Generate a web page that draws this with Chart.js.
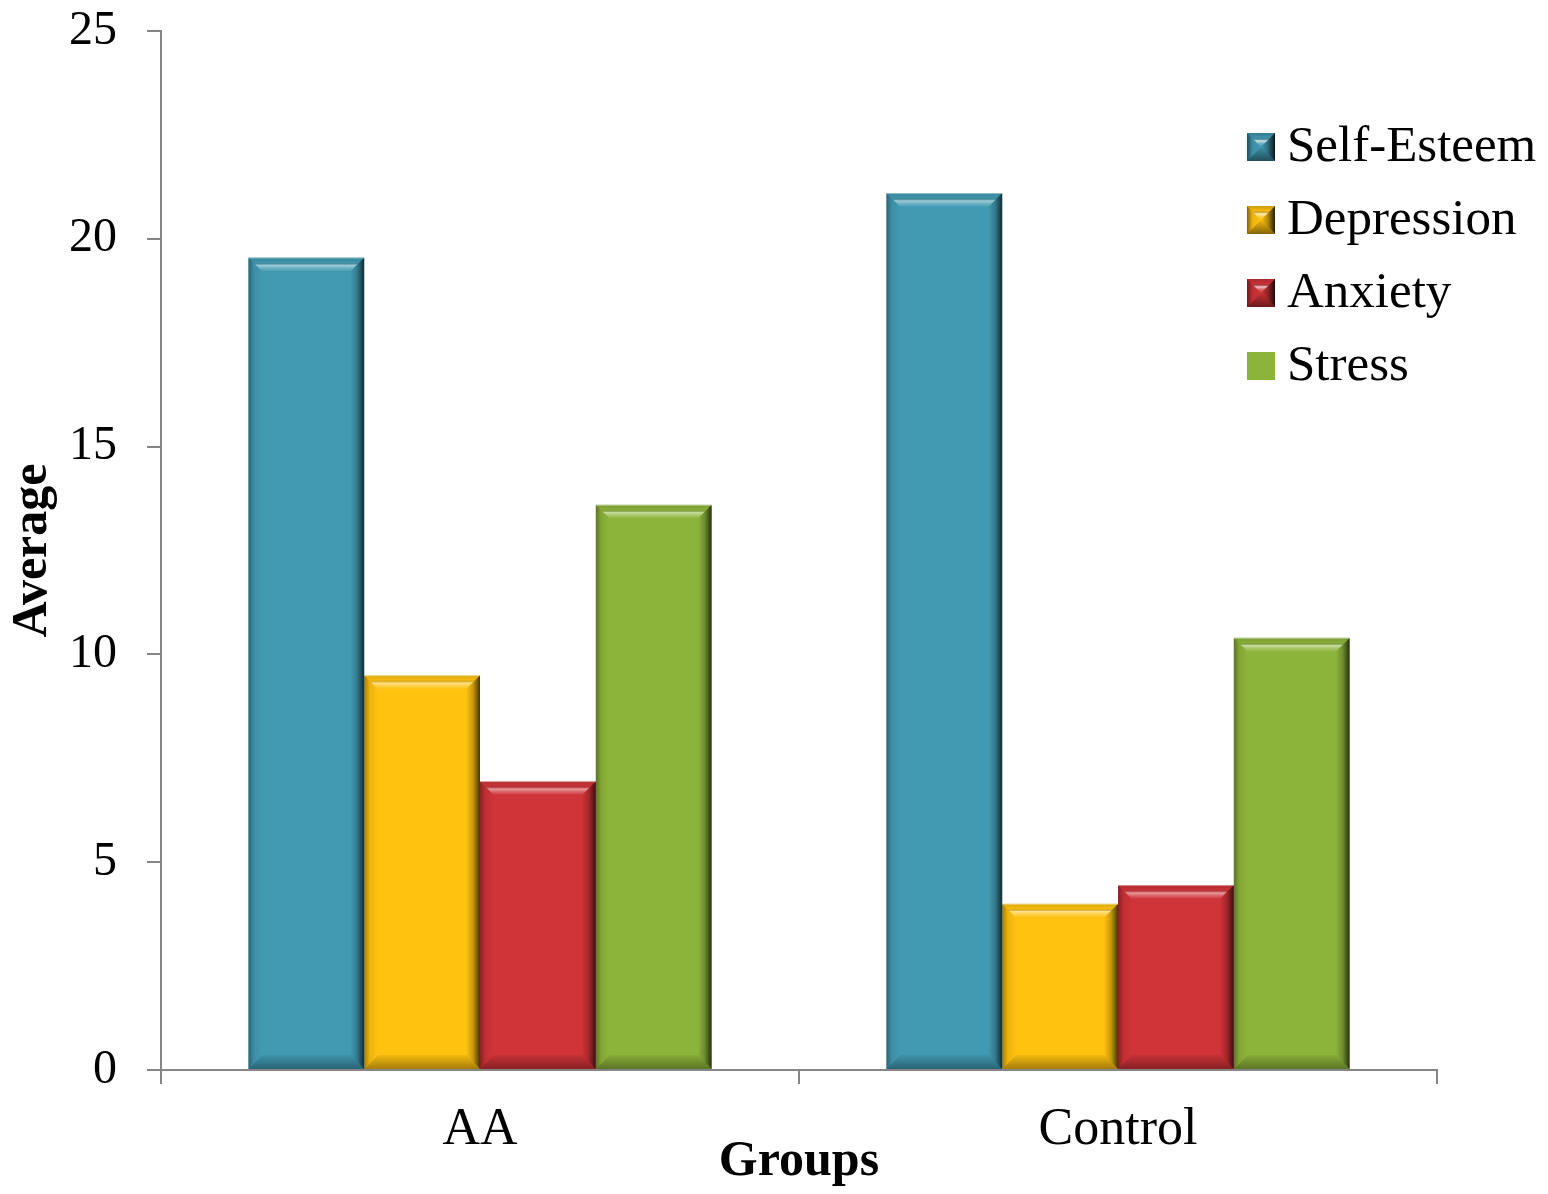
<!DOCTYPE html>
<html>
<head>
<meta charset="utf-8">
<script src="https://cdn.jsdelivr.net/npm/chart.js@4.4.1/dist/chart.umd.min.js"></script>
<style>
  html, body { margin: 0; padding: 0; background: #fff; }
  canvas { display: block; }
</style>
</head>
<body>
<canvas id="chart" width="1548" height="1194"></canvas>
<script>
// Group means per scale
const groups = ['AA', 'Control'];
const seriesNames = ['Self-Esteem', 'Depression', 'Anxiety', 'Stress'];
const selfEsteem = [19.55, 21.1];
const depression = [9.5, 4.0];
const anxiety = [6.95, 4.45];
const stress = [13.6, 10.4];
const yTickValues = [0, 5, 10, 15, 20, 25];

const seriesData = [selfEsteem, depression, anxiety, stress];
const seriesColors = ['#419AB2', '#FFC20F', '#D03338', '#8DB43A'];
const flatLegendMarker = [false, false, false, true];

const SERIF = "'Liberation Serif', 'Times New Roman', serif";
const AXIS_GRAY = '#868686';

function trapezoid(ctx, pts, fill) {
  ctx.beginPath();
  ctx.moveTo(pts[0][0], pts[0][1]);
  for (let i = 1; i < pts.length; i++) ctx.lineTo(pts[i][0], pts[i][1]);
  ctx.closePath();
  ctx.fillStyle = fill;
  ctx.fill();
}

// Raised-bevel shading over a filled rectangle
function bevel(ctx, l, t, r, b, s, strong) {
  const k = strong ? 1.4 : 1;
  // top edge
  let g = ctx.createLinearGradient(0, t, 0, t + s);
  g.addColorStop(0, 'rgba(0,0,0,' + 0.14 * k + ')');
  g.addColorStop(0.35, 'rgba(0,0,0,0.04)');
  g.addColorStop(0.55, 'rgba(255,255,255,' + Math.min(0.5 * k, 0.7) + ')');
  g.addColorStop(0.75, 'rgba(255,255,255,0.25)');
  g.addColorStop(1, 'rgba(255,255,255,0)');
  trapezoid(ctx, [[l, t], [r, t], [r - s, t + s], [l + s, t + s]], g);
  // right edge
  g = ctx.createLinearGradient(r - s, 0, r, 0);
  g.addColorStop(0, 'rgba(0,0,0,0)');
  g.addColorStop(0.5, 'rgba(0,0,0,' + 0.22 * k + ')');
  g.addColorStop(1, 'rgba(0,0,0,' + Math.min(0.72 * k, 0.85) + ')');
  trapezoid(ctx, [[r, t], [r, b], [r - s, b - s], [r - s, t + s]], g);
  // left edge
  g = ctx.createLinearGradient(l, 0, l + s, 0);
  g.addColorStop(0, 'rgba(0,0,0,' + 0.35 * k + ')');
  g.addColorStop(0.4, 'rgba(0,0,0,0.08)');
  g.addColorStop(1, 'rgba(0,0,0,0)');
  trapezoid(ctx, [[l, t], [l + s, t + s], [l + s, b - s], [l, b]], g);
  // bottom edge
  g = ctx.createLinearGradient(0, b - s, 0, b);
  g.addColorStop(0, 'rgba(0,0,0,0.05)');
  g.addColorStop(1, 'rgba(0,0,0,' + 0.35 * k + ')');
  trapezoid(ctx, [[l, b], [r, b], [r - s, b - s], [l + s, b - s]], g);
}

const bevelPlugin = {
  id: 'bevelBars',
  afterDatasetsDraw(chart) {
    const ctx = chart.ctx;
    ctx.save();
    chart.data.datasets.forEach((ds, i) => {
      const meta = chart.getDatasetMeta(i);
      meta.data.forEach(bar => {
        const p = bar.getProps(['x', 'y', 'base', 'width'], true);
        const l = p.x - p.width / 2, r = p.x + p.width / 2;
        const t = Math.min(p.y, p.base), b = Math.max(p.y, p.base);
        const s = Math.min(14, (b - t) / 2, (r - l) / 2);
        bevel(ctx, l, t, r, b, s, false);
        ctx.strokeStyle = 'rgba(255,255,255,0.45)';
        ctx.lineWidth = 1;
        ctx.beginPath();
        ctx.moveTo(l, t + 0.5);
        ctx.lineTo(r, t + 0.5);
        ctx.stroke();
      });
    });
    ctx.restore();
  }
};

const legendPlugin = {
  id: 'sideLegend',
  afterDraw(chart) {
    const ctx = chart.ctx;
    const area = chart.chartArea;
    const boxX = area.right - 190, size = 28, textX = boxX + 40;
    const firstY = area.top + 116, step = 73;
    ctx.save();
    ctx.font = '51px ' + SERIF;
    ctx.textBaseline = 'middle';
    ctx.textAlign = 'left';
    chart.data.datasets.forEach((ds, i) => {
      const cy = firstY + i * step;
      const t = cy - size / 2;
      ctx.fillStyle = ds.backgroundColor;
      ctx.fillRect(boxX, t, size, size);
      if (!flatLegendMarker[i]) bevel(ctx, boxX, t, boxX + size, t + size, size / 2, true);
      ctx.fillStyle = '#000';
      ctx.fillText(ds.label, textX, cy + 1);
    });
    ctx.restore();
  }
};

new Chart(document.getElementById('chart').getContext('2d'), {
  type: 'bar',
  data: {
    labels: groups,
    datasets: seriesNames.map((name, i) => ({
      label: name,
      data: seriesData[i],
      backgroundColor: seriesColors[i],
      borderWidth: 0
    }))
  },
  options: {
    responsive: false,
    animation: false,
    events: [],
    layout: { padding: { top: 31, right: 111, left: 0, bottom: 0 } },
    datasets: { bar: { categoryPercentage: 0.726, barPercentage: 1 } },
    plugins: { legend: { display: false }, tooltip: { enabled: false } },
    scales: {
      x: {
        offset: true,
        grid: { display: true, offset: true, drawOnChartArea: false, drawTicks: true, tickLength: 14, color: AXIS_GRAY, lineWidth: 2 },
        border: { display: true, color: AXIS_GRAY, width: 2 },
        ticks: { font: { family: SERIF, size: 52 }, color: '#000', padding: 15, maxRotation: 0 },
        title: { display: true, text: 'Groups', color: '#000',
                 font: { family: SERIF, size: 50, weight: 'bold' }, padding: { top: 0, bottom: 2 } },
        afterFit(scale) {
          scale.height = 124;
          scale.paddingLeft = 0; scale.paddingRight = 0;
        }
      },
      y: {
        min: 0, max: 25,
        afterBuildTicks(scale) { scale.ticks = yTickValues.map(v => ({ value: v })); },
        grid: { drawOnChartArea: false, drawTicks: true, tickLength: 14, color: AXIS_GRAY, lineWidth: 2 },
        border: { display: true, color: AXIS_GRAY, width: 2 },
        ticks: { font: { family: SERIF, size: 48 }, color: '#000', padding: 30 },
        title: { display: true, text: 'Average', color: '#000',
                 font: { family: SERIF, size: 50, weight: 'bold' }, padding: { top: 3, bottom: 0 } },
        afterFit(scale) {
          scale.width = 161;
          scale.paddingTop = 0; scale.paddingBottom = 0;
        }
      }
    }
  },
  plugins: [bevelPlugin, legendPlugin]
});
</script>
</body>
</html>
